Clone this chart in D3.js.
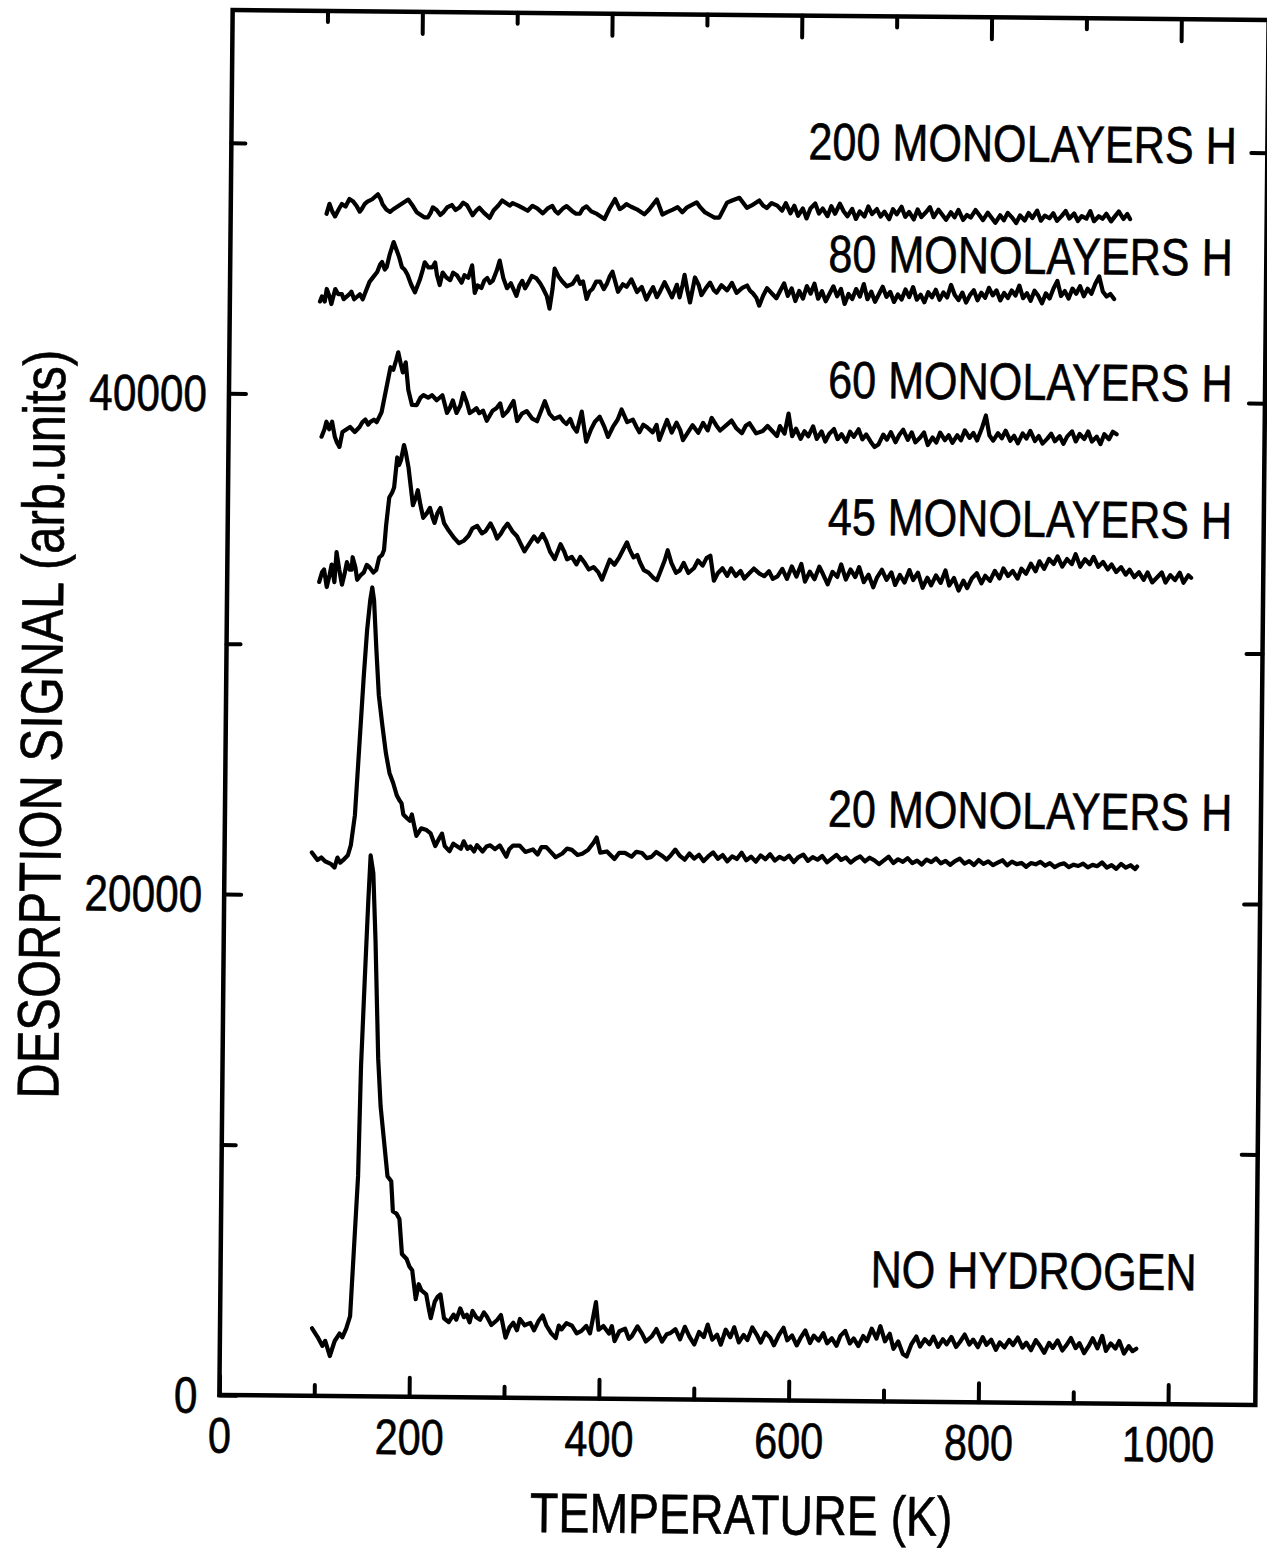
<!DOCTYPE html>
<html><head><meta charset="utf-8">
<script src="https://cdn.jsdelivr.net/npm/d3@7"></script>
<style>body{margin:0;background:#fff}svg{display:block}</style>
</head><body>
<svg id="chart" width="1267" height="1551"></svg>
<script>
// Desorption signal (in units of 1000 arb. units) vs temperature (K), pairs [T, signal]
const noHydrogen = [[97,2.7],[103,2.35],[108,2.0],[111,2.2],[116,1.6],[121,2.2],[126,2.5],[129,2.35],[133,2.7],[137,3.2],[141,6.4],[144,8.8],[146,13.2],[149,16.6],[152,19.8],[154,21.6],[157,20.9],[160,18.2],[164,13.5],[167,11.6],[171,10.2],[175,8.8],[179,8.6],[181,7.4],[185,7.3],[188,7.1],[191,5.7],[196,5.5],[199,5.2],[202,5.05],[206,3.9],[209,4.5],[212,4.25],[217,4.1],[220,3.5],[222,3.15],[226,3.8],[229,4.0],[232,4.1],[236,3.15],[241,3.0],[246,3.3],[249,3.1],[253,3.55],[257,3.2],[260,3.3],[263,3.0],[266,3.45],[270,3.2],[274,3.1],[278,3.4],[281,3.25],[286,2.9],[292,3.1],[296,3.3],[301,2.4],[305,2.8],[309,3.0],[313,2.7],[316,3.15],[321,2.9],[327,3.0],[331,2.7],[336,3.1],[340,3.3],[344,2.9],[349,2.6],[354,2.4],[357,2.9],[360,2.75],[365,3.0],[371,2.9],[376,2.6],[381,2.7],[386,2.9],[390,2.6],[392,3.0],[396,3.85],[399,2.75],[404,2.9],[410,2.6],[413,2.9],[416,2.3],[421,2.7],[427,2.8],[431,2.4],[434,2.5],[440,2.9],[445,2.6],[449,2.3],[455,2.5],[460,2.8],[466,2.3],[471,2.6],[475,2.65],[480,2.8],[485,2.4],[490,2.9],[495,2.5],[500,2.2],[505,2.7],[510,2.5],[514,3.0],[519,2.4],[524,2.6],[528,2.2],[533,2.8],[538,2.5],[542,2.9],[547,2.3],[552,2.6],[556,2.4],[561,2.9],[566,2.6],[570,2.3],[575,2.7],[580,2.5],[584,2.2],[589,2.6],[594,2.9],[598,2.4],[603,2.6],[608,2.2],[612,2.5],[617,2.8],[622,2.3],[626,2.6],[631,2.4],[636,2.7],[640,2.3],[645,2.5],[650,2.2],[654,2.6],[659,2.8],[664,2.3],[668,2.5],[673,2.2],[678,2.6],[682,2.4],[687,2.9],[692,2.5],[696,3.0],[701,2.4],[706,2.7],[710,2.1],[715,2.4],[720,1.9],[724,1.8],[729,2.3],[734,2.6],[738,2.2],[743,2.5],[748,2.3],[752,2.6],[757,2.2],[762,2.5],[766,2.3],[771,2.6],[776,2.2],[780,2.4],[785,2.7],[790,2.3],[794,2.5],[799,2.2],[804,2.6],[808,2.3],[813,2.5],[818,2.1],[822,2.4],[827,2.2],[832,2.5],[836,2.3],[841,2.6],[846,2.2],[850,2.4],[855,2.1],[860,2.5],[864,2.3],[869,2.0],[874,2.4],[878,2.2],[883,2.5],[888,2.1],[892,2.3],[897,2.6],[902,2.2],[906,2.4],[911,2.0],[916,2.3],[920,2.6],[925,2.2],[930,2.7],[934,2.1],[939,2.4],[944,2.2],[948,2.5],[953,2.0],[958,2.3],[962,2.1],[966,2.2]];

const ml20 = [[92,21.7],[98,21.4],[102,21.5],[106,21.35],[112,21.25],[116,21.1],[119,21.5],[122,21.3],[125,21.4],[130,21.6],[133,22.0],[137,23.2],[141,26.0],[145,28.8],[148,30.6],[151,31.8],[153,32.3],[155,31.8],[158,29.8],[161,28.0],[165,26.8],[169,25.7],[173,24.9],[177,24.5],[181,24.0],[184,23.8],[186,23.7],[188,23.25],[192,23.1],[195,23.0],[197,23.25],[202,22.4],[207,22.7],[212,22.65],[217,22.5],[222,22.0],[226,22.3],[229,22.5],[232,22.0],[237,21.8],[241,22.1],[245,22.0],[249,21.9],[252,22.2],[256,21.9],[259,22.0],[263,21.8],[266,22.05],[272,21.8],[276,22.0],[280,22.05],[285,21.9],[290,22.05],[297,21.6],[300,21.9],[304,22.05],[311,22.05],[317,21.8],[325,21.9],[330,21.7],[334,22.0],[339,22.0],[344,21.8],[349,21.6],[356,21.75],[361,21.95],[366,21.9],[372,21.7],[377,21.75],[383,21.9],[389,22.2],[392,22.4],[396,21.8],[403,21.85],[407,21.7],[411,21.55],[416,21.8],[422,21.8],[429,21.65],[434,21.85],[440,21.8],[445,21.6],[450,21.65],[455,21.85],[461,21.7],[466,21.55],[470,21.7],[475,21.95],[480,21.7],[485,21.55],[490,21.8],[495,21.6],[500,21.75],[505,21.5],[510,21.7],[515,21.85],[520,21.6],[525,21.75],[530,21.5],[535,21.7],[540,21.6],[545,21.85],[550,21.55],[555,21.7],[560,21.5],[565,21.75],[570,21.6],[575,21.8],[580,21.55],[585,21.7],[590,21.6],[595,21.75],[600,21.5],[605,21.7],[610,21.8],[615,21.55],[620,21.7],[625,21.6],[630,21.75],[635,21.5],[640,21.65],[645,21.8],[650,21.6],[655,21.7],[660,21.5],[665,21.65],[670,21.75],[675,21.55],[680,21.7],[685,21.6],[690,21.45],[695,21.6],[700,21.75],[705,21.5],[710,21.65],[715,21.55],[720,21.7],[725,21.5],[730,21.6],[735,21.45],[740,21.65],[745,21.55],[750,21.7],[755,21.5],[760,21.6],[765,21.45],[770,21.6],[775,21.7],[780,21.5],[785,21.6],[790,21.45],[795,21.65],[800,21.5],[805,21.6],[810,21.45],[815,21.55],[820,21.65],[825,21.45],[830,21.6],[835,21.5],[840,21.55],[845,21.4],[850,21.55],[855,21.5],[860,21.6],[865,21.45],[870,21.55],[875,21.4],[880,21.5],[885,21.55],[890,21.4],[895,21.5],[900,21.45],[905,21.55],[910,21.4],[915,21.5],[920,21.45],[925,21.6],[930,21.4],[935,21.5],[940,21.35],[945,21.55],[950,21.4],[955,21.5],[960,21.35],[962,21.45]];

const ml45 = [[97,32.5],[100,32.9],[102,33.0],[105,32.3],[108,32.8],[110,33.2],[113,32.5],[115,33.7],[118,33.0],[121,32.4],[124,32.9],[126,33.3],[129,33.0],[131,33.0],[132,33.5],[135,33.1],[137,32.6],[141,32.8],[144,32.9],[147,33.2],[150,33.1],[154,32.9],[157,33.0],[160,33.5],[163,33.6],[165,33.8],[167,34.8],[170,35.9],[173,36.1],[175,36.3],[178,37.5],[180,37.2],[182,37.4],[185,38.0],[187,37.7],[190,37.1],[193,36.2],[195,35.6],[198,35.9],[200,36.2],[203,35.6],[206,35.1],[210,35.3],[213,35.5],[216,35.1],[218,34.9],[221,35.3],[224,35.5],[226,35.2],[228,34.9],[233,34.6],[239,34.3],[244,34.1],[249,34.2],[254,34.4],[258,34.7],[263,34.8],[268,34.5],[272,34.6],[277,34.9],[281,34.6],[284,34.3],[288,34.5],[291,34.7],[295,34.9],[300,34.6],[305,34.4],[309,34.1],[313,33.8],[318,34.1],[323,34.4],[327,34.2],[332,34.5],[336,34.2],[340,33.8],[345,33.5],[348,33.8],[351,34.1],[355,33.8],[358,33.5],[363,33.6],[368,33.3],[372,33.6],[376,33.4],[381,33.1],[386,33.2],[391,33.0],[395,32.7],[399,33.1],[403,33.5],[408,33.3],[413,33.6],[417,33.9],[421,34.2],[424,33.9],[428,33.6],[432,33.7],[435,33.4],[439,33.1],[444,33.0],[449,32.8],[453,32.7],[457,33.1],[461,33.5],[464,33.9],[468,33.4],[473,33.0],[477,33.1],[481,33.4],[486,33.0],[492,33.2],[496,33.5],[501,33.3],[505,33.6],[509,33.7],[513,32.7],[517,33.0],[522,33.2],[527,32.9],[531,33.2],[536,32.9],[541,33.1],[545,32.8],[550,33.0],[555,33.2],[561,33.0],[566,32.9],[571,33.1],[575,32.8],[580,32.9],[585,33.2],[590,32.8],[595,33.3],[600,32.9],[605,33.4],[609,32.7],[614,33.1],[619,32.8],[624,33.3],[628,33.0],[633,32.6],[638,33.1],[643,32.9],[647,33.4],[652,32.8],[657,33.2],[662,32.9],[666,33.3],[671,32.7],[676,33.0],[681,32.5],[685,32.9],[690,33.2],[695,32.8],[700,33.1],[704,32.6],[709,33.0],[714,32.7],[719,33.2],[723,32.8],[728,33.1],[733,32.5],[738,32.9],[742,32.6],[747,33.0],[752,32.7],[757,33.2],[761,32.6],[766,32.9],[771,32.4],[776,32.8],[780,32.5],[785,32.9],[790,33.1],[795,32.7],[799,33.0],[804,32.8],[809,33.2],[814,32.9],[818,33.3],[823,33.0],[828,33.2],[833,32.9],[837,33.3],[842,33.1],[847,33.5],[852,33.2],[856,33.6],[861,33.3],[866,33.7],[871,33.5],[875,33.8],[880,33.4],[885,33.7],[890,33.5],[894,33.9],[899,33.4],[904,33.7],[909,33.5],[913,33.8],[918,33.4],[923,33.6],[928,33.3],[932,33.5],[937,33.2],[942,33.4],[947,33.1],[951,33.3],[956,33.0],[961,33.2],[966,32.9],[970,33.2],[975,32.8],[980,33.0],[985,33.2],[989,32.8],[994,33.1],[999,32.9],[1004,33.2],[1008,32.8],[1013,33.1],[1016,33.0]];

const ml60 = [[98,38.3],[101,38.6],[103,38.9],[106,38.6],[109,38.9],[112,38.3],[114,38.1],[117,37.9],[119,38.3],[120,38.5],[124,38.6],[128,38.7],[133,38.5],[138,38.7],[141,38.9],[144,39.0],[147,38.8],[149,38.9],[153,39.0],[156,38.9],[161,39.3],[165,40.1],[170,41.1],[173,41.0],[176,41.4],[178,41.7],[181,41.2],[183,40.9],[186,41.3],[189,40.2],[193,39.6],[198,39.6],[202,39.9],[205,40.0],[210,39.9],[214,40.0],[219,39.8],[222,39.9],[225,40.0],[230,39.3],[233,39.5],[236,39.8],[240,39.3],[244,39.6],[247,40.1],[251,39.7],[254,39.3],[258,39.4],[261,39.5],[264,39.3],[268,39.4],[272,39.0],[275,39.2],[278,39.4],[282,39.5],[286,39.7],[289,39.2],[294,39.4],[300,39.8],[304,39.0],[309,39.3],[314,39.4],[320,39.1],[325,39.0],[329,39.4],[333,39.8],[338,39.3],[343,39.1],[349,39.2],[353,39.0],[356,38.9],[360,39.1],[363,38.8],[367,38.6],[372,39.4],[377,38.2],[382,38.7],[386,39.0],[391,39.2],[396,38.8],[400,38.4],[405,38.8],[410,39.1],[414,39.5],[420,39.0],[426,39.1],[430,38.8],[433,38.6],[437,38.9],[441,38.8],[447,38.6],[451,38.9],[454,38.3],[458,38.7],[462,39.1],[467,38.6],[472,39.0],[476,38.7],[479,38.3],[484,38.6],[489,38.9],[495,38.6],[500,39.0],[505,38.7],[509,39.2],[514,38.9],[518,38.7],[524,38.9],[530,39.1],[535,38.8],[541,38.6],[545,38.9],[549,39.0],[556,38.6],[563,38.7],[568,38.9],[573,38.7],[578,38.5],[581,38.9],[586,38.6],[590,39.4],[594,38.5],[598,38.8],[603,38.4],[607,38.7],[611,38.5],[616,38.9],[620,38.4],[625,38.7],[629,38.3],[633,38.6],[638,38.8],[642,38.4],[646,38.6],[651,38.3],[655,38.7],[659,38.5],[664,38.8],[668,38.4],[672,38.6],[677,38.3],[681,38.1],[685,38.2],[690,38.6],[694,38.4],[698,38.7],[703,38.3],[707,38.6],[711,38.8],[716,38.4],[720,38.7],[724,38.3],[729,38.5],[733,38.7],[737,38.2],[742,38.5],[746,38.3],[750,38.7],[755,38.4],[759,38.6],[763,38.3],[768,38.6],[772,38.4],[776,38.8],[781,38.5],[785,38.7],[789,38.4],[794,38.9],[798,39.4],[802,38.6],[806,38.4],[811,38.7],[815,38.5],[819,38.8],[824,38.4],[828,38.6],[832,38.3],[837,38.7],[841,38.5],[845,38.8],[850,38.4],[854,38.6],[858,38.3],[863,38.5],[867,38.7],[871,38.4],[876,38.6],[880,38.3],[884,38.6],[889,38.8],[893,38.4],[897,38.7],[902,38.5],[906,38.8],[910,38.4],[915,38.6],[919,38.3],[923,38.7],[928,38.5],[932,38.8],[936,38.7]];

const ml80 = [[95,43.7],[97,43.9],[100,43.7],[102,44.2],[105,43.9],[107,43.6],[109,43.9],[111,44.2],[114,44.0],[118,44.0],[120,43.8],[123,43.9],[126,44.0],[128,44.1],[131,43.8],[134,43.9],[137,44.0],[140,43.8],[143,44.1],[147,44.5],[151,44.7],[155,44.9],[158,45.2],[160,45.3],[163,45.0],[165,45.1],[168,45.6],[172,46.1],[174,45.9],[176,45.7],[178,45.5],[181,45.1],[184,45.0],[187,44.8],[191,44.4],[195,44.1],[197,44.3],[200,44.6],[203,45.0],[205,45.3],[209,45.1],[213,45.1],[216,45.3],[218,44.8],[221,44.4],[224,44.9],[228,44.7],[232,44.6],[235,44.9],[239,44.8],[244,44.5],[247,44.8],[251,44.7],[255,45.2],[258,44.1],[261,44.4],[265,44.3],[268,44.6],[271,44.7],[274,44.5],[277,44.6],[281,45.0],[284,45.4],[288,44.7],[292,44.3],[296,44.5],[302,44.0],[305,44.4],[308,44.6],[311,44.3],[314,44.5],[318,44.8],[323,44.7],[327,44.5],[330,44.3],[334,44.0],[337,43.5],[340,44.3],[342,45.1],[346,44.8],[350,44.6],[355,44.4],[361,44.5],[366,44.8],[369,44.5],[372,44.6],[376,43.9],[379,44.2],[382,44.3],[386,44.6],[390,44.6],[394,44.3],[397,44.5],[400,44.8],[403,45.0],[406,44.6],[409,44.2],[414,44.5],[418,44.4],[423,44.7],[429,44.2],[434,44.4],[439,43.9],[443,44.2],[446,44.4],[450,44.0],[453,44.2],[458,44.6],[462,44.3],[466,44.0],[469,44.3],[471,44.5],[474,44.0],[477,44.5],[479,44.9],[482,44.3],[485,43.8],[488,44.4],[490,44.8],[494,44.5],[497,44.1],[502,44.4],[506,44.6],[510,44.3],[513,44.2],[518,44.5],[524,44.3],[529,44.6],[534,44.2],[540,44.4],[545,44.5],[548,44.3],[551,44.2],[555,44.0],[558,43.7],[562,44.1],[566,44.4],[571,44.2],[576,44.0],[580,44.3],[584,44.6],[588,44.1],[592,44.4],[596,43.9],[600,44.3],[604,44.0],[608,44.5],[612,44.2],[616,44.6],[620,44.0],[624,44.3],[628,43.9],[632,44.2],[636,44.5],[640,44.1],[644,44.4],[648,43.8],[652,44.2],[656,44.0],[660,44.4],[664,44.1],[668,44.6],[672,44.0],[676,44.3],[680,43.9],[684,44.2],[688,44.5],[692,44.1],[696,44.3],[700,43.9],[704,44.2],[708,44.0],[712,44.4],[716,44.1],[720,44.5],[724,44.0],[728,44.2],[732,43.9],[736,44.3],[740,44.1],[744,44.4],[748,44.0],[752,44.3],[756,44.1],[760,44.6],[764,44.2],[768,44.0],[772,44.3],[776,43.9],[780,44.2],[784,44.4],[788,44.0],[792,44.3],[796,44.1],[800,44.5],[804,44.2],[808,44.4],[812,44.0],[816,44.3],[820,44.1],[824,44.4],[828,44.2],[832,44.6],[836,44.1],[840,44.3],[844,44.0],[848,44.4],[852,44.2],[856,43.9],[860,44.3],[864,44.1],[868,44.5],[872,44.8],[876,44.2],[880,44.4],[884,44.1],[888,44.5],[892,44.3],[896,44.6],[900,44.2],[904,44.5],[908,44.3],[912,44.7],[916,45.0],[920,44.4],[924,44.2],[928,44.3],[932,44.1]];

const ml200 = [[101,47.2],[104,47.6],[107,47.3],[110,47.1],[114,47.4],[117,47.6],[121,47.5],[125,47.8],[129,47.7],[133,47.5],[136,47.3],[138,47.4],[141,47.6],[144,47.7],[149,47.8],[152,47.9],[155,48.0],[158,47.8],[160,47.6],[164,47.4],[168,47.3],[171,47.4],[175,47.5],[179,47.6],[183,47.7],[187,47.8],[191,47.6],[196,47.3],[200,47.2],[204,47.1],[208,47.1],[211,47.3],[213,47.5],[217,47.4],[221,47.2],[224,47.3],[228,47.5],[233,47.6],[237,47.4],[241,47.5],[245,47.7],[249,47.6],[252,47.4],[255,47.2],[259,47.4],[262,47.5],[267,47.3],[270,47.2],[273,47.1],[277,47.4],[282,47.6],[286,47.8],[290,47.7],[294,47.6],[297,47.7],[303,47.6],[308,47.5],[313,47.4],[318,47.6],[323,47.5],[326,47.4],[329,47.3],[334,47.5],[339,47.6],[342,47.4],[345,47.3],[350,47.5],[354,47.6],[357,47.5],[360,47.4],[364,47.3],[368,47.3],[371,47.5],[375,47.6],[380,47.4],[386,47.3],[390,47.2],[394,47.1],[399,47.5],[405,47.9],[410,47.5],[414,47.6],[417,47.7],[422,47.6],[428,47.5],[432,47.4],[436,47.3],[441,47.5],[445,47.7],[449,47.9],[452,47.6],[455,47.3],[460,47.4],[466,47.5],[471,47.6],[476,47.4],[481,47.6],[486,47.7],[491,47.8],[495,47.6],[500,47.4],[505,47.3],[510,47.2],[515,47.2],[519,47.5],[523,47.8],[529,47.9],[536,48.0],[540,47.8],[544,47.6],[549,47.7],[553,47.8],[557,47.9],[561,47.7],[565,47.6],[570,47.8],[576,47.7],[581,47.5],[585,47.8],[590,47.4],[594,47.7],[598,47.3],[603,47.6],[607,47.2],[611,47.6],[616,47.8],[620,47.4],[624,47.6],[629,47.3],[633,47.7],[637,47.4],[642,47.8],[646,47.5],[650,47.3],[655,47.6],[659,47.2],[663,47.5],[668,47.3],[672,47.7],[676,47.4],[681,47.6],[685,47.3],[689,47.5],[694,47.2],[698,47.6],[702,47.4],[707,47.7],[711,47.3],[715,47.5],[720,47.2],[724,47.6],[728,47.3],[733,47.5],[737,47.7],[741,47.3],[746,47.6],[750,47.4],[754,47.2],[759,47.5],[763,47.3],[767,47.6],[772,47.2],[776,47.4],[780,47.3],[785,47.6],[789,47.4],[793,47.2],[798,47.5],[802,47.3],[806,47.1],[811,47.4],[815,47.2],[819,47.5],[824,47.3],[828,47.1],[832,47.4],[837,47.2],[841,47.5],[845,47.3],[850,47.6],[854,47.2],[858,47.4],[863,47.3],[867,47.5],[871,47.2],[876,47.4],[880,47.6],[884,47.3],[889,47.5],[893,47.2],[897,47.4],[902,47.3],[906,47.6],[910,47.2],[915,47.4],[919,47.3],[923,47.5],[928,47.2],[932,47.4],[936,47.6],[941,47.3],[945,47.5],[948,47.3]];

const seriesList = [noHydrogen, ml20, ml45, ml60, ml80, ml200];
const seriesLabels = ["NO HYDROGEN","20 MONOLAYERS H","45 MONOLAYERS H","60 MONOLAYERS H","80 MONOLAYERS H","200 MONOLAYERS H"];

const xMajorTicks = [0,200,400,600,800,1000];
const xMinorTicks = [100,300,500,700,900];
const yMajorTicks = [0,20,40];       // thousands
const yMinorTicks = [10,30,50];
const xTitle = "TEMPERATURE (K)";
const yTitle = "DESORPTION SIGNAL (arb.units)";

// ---- layout ----
const L = 226, R = 1262, T = 15, B = 1400;
const x = d3.scaleLinear().domain([0,1092]).range([L,R]);
const y = d3.scaleLinear().domain([0,55.3]).range([B,T]);
const FONT = "'Liberation Sans', Arial, Helvetica, sans-serif";
const NARROW = 0.83;

const svg = d3.select('#chart');
svg.append('rect').attr('width',1267).attr('height',1551).attr('fill','#fff');
const g = svg.append('g').attr('transform','rotate(0.55,744,706)');

// frame
g.append('rect').attr('x',L).attr('y',T).attr('width',R-L).attr('height',B-T)
 .attr('fill','none').attr('stroke','#000').attr('stroke-width',4.5);

function styleAxis(sel){
  sel.select('.domain').remove();
  sel.selectAll('line').attr('stroke','#000').attr('stroke-width',4).attr('stroke-linecap','round');
  sel.selectAll('text').attr('font-family',FONT).attr('fill','#000');
}
const fmtY = d => String(Math.round(d*1000));

// bottom
g.append('g').attr('transform',`translate(0,${B})`)
 .call(d3.axisBottom(x).tickValues(xMajorTicks).tickSizeInner(-19).tickSizeOuter(0).tickPadding(22).tickFormat(d3.format('d')))
 .call(styleAxis).call(s=>s.selectAll('text').attr('font-size',50).attr('class','narrow'));
g.append('g').attr('transform',`translate(0,${B})`)
 .call(d3.axisBottom(x).tickValues(xMinorTicks).tickSizeInner(-11).tickSizeOuter(0).tickFormat(''))
 .call(styleAxis);
// top
g.append('g').attr('transform',`translate(0,${T})`)
 .call(d3.axisTop(x).tickValues(xMajorTicks.filter(d=>d>0)).tickSizeInner(-22).tickSizeOuter(0).tickFormat(''))
 .call(styleAxis);
g.append('g').attr('transform',`translate(0,${T})`)
 .call(d3.axisTop(x).tickValues(xMinorTicks).tickSizeInner(-11).tickSizeOuter(0).tickFormat(''))
 .call(styleAxis);
// left
g.append('g').attr('transform',`translate(${L},0)`)
 .call(d3.axisLeft(y).tickValues(yMajorTicks).tickSizeInner(-17).tickSizeOuter(0).tickPadding(22).tickFormat(fmtY))
 .call(styleAxis).call(s=>s.selectAll('text').attr('font-size',51).attr('dy','0.34em').attr('class','narrow'));
g.append('g').attr('transform',`translate(${L},0)`)
 .call(d3.axisLeft(y).tickValues(yMinorTicks).tickSizeInner(-14).tickSizeOuter(0).tickFormat(''))
 .call(styleAxis);
// right
g.append('g').attr('transform',`translate(${R},0)`)
 .call(d3.axisRight(y).tickValues(yMajorTicks.concat(yMinorTicks).filter(d=>d>0)).tickSizeInner(-16).tickSizeOuter(0).tickFormat(''))
 .call(styleAxis);

// curves
const line = d3.line().x(d=>x(d[0])).y(d=>y(d[1]));
g.selectAll('path.curve').data(seriesList).join('path').attr('class','curve')
 .attr('d',line).attr('fill','none').attr('stroke','#000').attr('stroke-width',4.2)
 .attr('stroke-linejoin','round').attr('stroke-linecap','round');

// curve labels (positioned in plot pixels)
const labelPos = [[876,1286],[829,826],[826,534],[825,397],[824,271],[803,159]];
g.selectAll('text.lbl').data(seriesLabels).join('text').attr('class','lbl narrow')
 .attr('x',(d,i)=>labelPos[i][0]).attr('y',(d,i)=>labelPos[i][1])
 .attr('font-family',FONT).attr('font-size',52).attr('fill','#000').text(d=>d);

// axis titles
g.append('text').attr('class','narrow').attr('x',749).attr('y',1534).attr('text-anchor','middle')
 .attr('font-family',FONT).attr('font-size',56).text(xTitle);
g.append('text').attr('class','narrow').attr('transform','translate(62,731) rotate(-90)').attr('text-anchor','middle')
 .attr('font-family',FONT).attr('font-size',59).text(yTitle);

// condensed look of the original lettering: horizontal scale about each text's anchor point
svg.selectAll('text.narrow').each(function(){
  const s = d3.select(this);
  const tx = +(s.attr('x') || 0), ty = +(s.attr('y') || 0);
  const pre = s.attr('transform') || '';
  s.attr('x',0).attr('y',0)
   .attr('transform',`${pre} translate(${tx},${ty}) scale(${NARROW},1)`)
   .attr('stroke','#000').attr('stroke-width',0.6);
});
</script>
</body></html>
